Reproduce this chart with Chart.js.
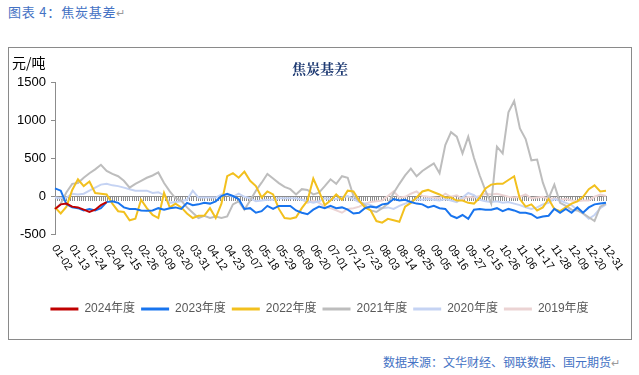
<!DOCTYPE html>
<html lang="zh">
<head>
<meta charset="UTF-8">
<title>焦炭基差</title>
<style>
  body { margin: 0; width: 639px; height: 375px; background: #fff; position: relative; overflow: hidden;
         font-family: "Noto Sans CJK SC", sans-serif; }
  .cap { position: absolute; left: 8px; top: 2px; font-size: 13px; color: #4472C4; letter-spacing: 0.8px; }
  .ret { color: #9a9a9a; font-size: 11px; }
  .frame { position: absolute; left: 8px; top: 47px; width: 622px; height: 291px; border: 1px solid #8a8a8a; }
  .unit { position: absolute; left: 3px; top: 4px; font-size: 14px; color: #000; }
  .title { position: absolute; left: 0; right: 0; top: 10px; text-align: center; font-size: 14px;
           font-weight: bold; color: #1F3B73; font-family: "Noto Serif CJK SC", "Noto Sans CJK SC", serif; }
  .box { position: absolute; left: 0; top: 0; width: 622px; height: 291px; }
  .src { position: absolute; right: 19px; top: 353px; font-size: 12px; color: #4472C4; }
</style>
</head>
<body>
<div class="cap">图表 4：焦炭基差<span class="ret">↵</span></div>
<div class="frame">
  <div class="box"><canvas id="chart"></canvas></div>
  <div class="unit">元/吨</div>
  <div class="title">焦炭基差</div>
</div>
<div class="src">数据来源：文华财经、钢联数据、国元期货<span class="ret">↵</span></div>

<script src="https://cdn.jsdelivr.net/npm/chart.js"></script>
<script>
// tick dates shown under the axis, two unlabeled points between each
const dateTicks = ['01-02', '01-13', '01-24', '02-04', '02-15', '02-26', '03-09', '03-20', '03-31',
  '04-12', '04-23', '05-07', '05-18', '05-29', '06-09', '06-20', '07-01', '07-12', '07-23', '08-03',
  '08-14', '08-25', '09-05', '09-16', '09-27', '10-15', '10-26', '11-06', '11-17', '11-28', '12-09',
  '12-20', '12-31'];

const categories = [];
dateTicks.forEach((d, k) => {
  categories.push(d);
  if (k < dateTicks.length - 1) categories.push('', '');
});

const yearLabels = ['2024年度', '2023年度', '2022年度', '2021年度', '2020年度', '2019年度'];
const yearColors = ['#C00000', '#1874EE', '#F2C01E', '#BDBDBD', '#C5D3F3', '#EBD3D3'];

const y2024 = [-170, -110, -100, -140, -150, -180, -210, -180, -120, -80];

const y2023 = [100, 70, -110, -150, -160, -190, -170, -190, -160, -80,
  -70, -90, -150, -170, -170, -190, -195, -190, -160, -180,
  -160, -150, -170, -90, -120, -110, -90, -100, -70, 0,
  30, 0, -40, -170, -160, -220, -200, -130, -170, -130,
  -130, -130, -190, -220, -240, -180, -140, -160, -130, -160,
  -150, -180, -230, -220, -160, -140, -150, -110, -100, -40,
  -60, -50, -80, -100, -110, -150, -130, -160, -170, -260,
  -290, -250, -300, -180, -170, -180, -180, -160, -200, -170,
  -190, -220, -220, -240, -290, -270, -260, -170, -220, -170,
  -220, -150, -220, -150, -110, -100, -90];

const y2022 = [-150, -230, -140, 80, 220, 130, 190, 40, 30, 20,
  -100, -200, -210, -320, -300, -50, -160, -250, -290, 40,
  -150, -100, -150, -230, -290, -260, -260, -160, -290, -100,
  260, 300, 240, 320, 200, 130, -20, 60, 20, -170,
  -290, -300, -280, -160, -60, 230, 60, -120, -60, 20,
  -50, 70, 60, -60, -150, -190, -330, -350, -300, -320,
  -340, -140, -90, -20, 60, 80, 50, 20, -20, -20,
  -60, -60, -90, -100, -20, 100, 150, 160, 160, 210,
  260, -40, -140, -110, -190, -150, -40, -170, -200, -150,
  -100, -70, -10, 90, 140, 60, 70];

const y2021 = [-180, -100, 50, 160, 170, 240, 300, 350, 410, 330,
  290, 260, 200, 110, 160, 200, 240, 270, 310, 170,
  60, -30, -60, -150, -220, -290, -260, -290, -270, -290,
  -270, -110, -70, -180, -60, 70, 175, 290, 230, 170,
  120, 90, 20, 90, 80, 20, 45, 130, 220, 160,
  260, 240, 0, -70, -120, -190, -210, -160, -100, 40,
  160, 270, 360, 260, 330, 380, 430, 300, 670, 840,
  780, 560, 780, 500, 270, 70, -100, 650, 560, 1100,
  1250, 890, 750, 470, 480, 175, -30, 150, -90, -130,
  -180, -190, -230, -280, -330, -140, -100];

const y2020 = [-20, -30, -20, 30, 20, 30, 70, 110, 150, 160,
  140, 130, 110, 90, 70, 70, 70, 40, 50, 10,
  -90, -80, -70, -50, 70, -20, -20, -20, -20, 20,
  20, -10, 30, -10, -30, -70, -60, -50, -50, -30,
  -30, -30, -30, -50, -70, -90, -70, -30, -40, -40,
  -20, 0, -40, -80, -100, -120, -150, -160, -150, -170,
  -130, -100, -70, -40, -50, -40, -50, -60, -40, -60,
  -80, -20, 40, 10, -50, -70, -80, -70, -90, -80,
  -100, -120, -150, -170, -150, -110, -90, -40, -60, -90,
  -120, -180, -230, -300, -250, -160, -110];

const y2019 = [null, null, null, null, null, null, null, null, null, null,
  null, null, null, null, null, null, null, null, null, null,
  null, null, null, null, null, null, null, null, null, null,
  null, null, null, null, null, null, null, null, null, null,
  null, null, null, -40, -90, -60, -90, -140, -160, -190,
  -220, -170, -160, -140, -100, -80, -70, -60, 0, 60,
  -20, -10, 30, 60, 0, -10, -20, -30, 30, -10,
  10, -40, -10, -20, 0, 30, 20, 30, 10, -10,
  -20, -10, 20, -30, -20, -10, -40, -30, -50, -40,
  -60, -70, -60, -60, -10, 20, 0];

const series = [y2024, y2023, y2022, y2021, y2020, y2019];

const fontLatin = '"Liberation Sans", Arial, "Noto Sans CJK SC", sans-serif';

// rotated date labels (clockwise), drawn under the plot
const dateLabelPlugin = {
  id: 'dateLabels',
  afterLayout(chart) {
    // centre the legend on the whole frame rather than left of the right padding
    const lg = chart.legend;
    if (lg) { lg.left += 12; lg.right += 12; }
  },
  afterDraw(chart) {
    const { ctx, chartArea } = chart;
    const x = chart.scales.x;
    ctx.save();
    ctx.font = '11px ' + fontLatin;
    ctx.fillStyle = '#000';
    ctx.textAlign = 'left';
    ctx.textBaseline = 'middle';
    categories.forEach((lab, i) => {
      if (!lab) return;
      ctx.save();
      ctx.translate(x.getPixelForValue(i) - 1, chartArea.bottom + 12);
      ctx.rotate(56 * Math.PI / 180);
      ctx.fillText(lab, 0, 0);
      ctx.restore();
    });
    ctx.restore();
  }
};

new Chart(document.getElementById('chart'), {
  type: 'line',
  data: {
    labels: categories,
    datasets: series.map((d, k) => ({
      label: yearLabels[k],
      data: d,
      borderColor: yearColors[k],
      backgroundColor: yearColors[k],
      borderWidth: 2,
      pointRadius: 0,
      tension: 0,
      fill: false
    }))
  },
  options: {
    responsive: true,
    maintainAspectRatio: false,
    animation: false,
    layout: { padding: { top: 34, right: 25, left: 0, bottom: 14 } },
    scales: {
      x: {
        type: 'category',
        offset: false,
        ticks: { display: false },
        grid: { display: false },
        border: { display: false },
        afterFit(s) { s.height = 63; }
      },
      x0: {
        type: 'linear',
        position: { y: 0 },
        min: 0,
        max: 250,
        z: 1,
        ticks: { display: false, stepSize: 1 },
        grid: { drawOnChartArea: false, tickLength: 4, color: '#8c8c8c' },
        border: { color: '#8c8c8c' }
      },
      y: {
        min: -500,
        max: 1500,
        ticks: {
          stepSize: 500, color: '#000', padding: 5, font: { size: 13, family: fontLatin },
          callback: v => String(v)
        },
        grid: { drawOnChartArea: false, tickLength: 4, color: '#8c8c8c' },
        border: { color: '#8c8c8c' },
        afterFit(s) { s.width = 46; }
      }
    },
    plugins: {
      title: { display: false },
      tooltip: { enabled: false },
      legend: {
        position: 'bottom',
        labels: {
          usePointStyle: true,
          pointStyle: 'line',
          pointStyleWidth: 28,
          padding: 6,
          color: '#595959',
          font: { size: 12, family: fontLatin },
          generateLabels(chart) {
            const items = Chart.defaults.plugins.legend.labels.generateLabels(chart);
            items.forEach(it => { it.lineWidth = 3; });
            return items;
          }
        }
      }
    }
  },
  plugins: [dateLabelPlugin]
});
</script>
</body>
</html>
